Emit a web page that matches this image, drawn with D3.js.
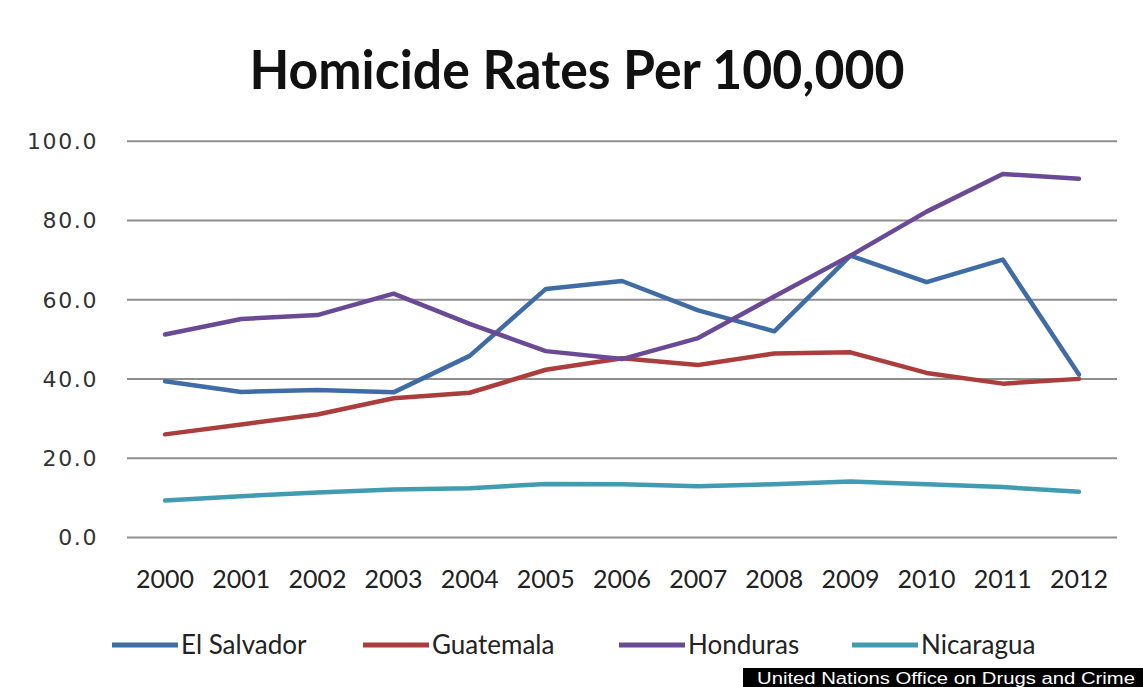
<!DOCTYPE html>
<html>
<head>
<meta charset="utf-8">
<script src="https://cdn.jsdelivr.net/npm/d3@7"></script>
<style>
  body { margin: 0; background: #fff; }
  #chart { width: 1143px; height: 687px; }
</style>
</head>
<body>
<div id="chart"></div>
<script>
// Data
const years = ["2000", "2001", "2002", "2003", "2004", "2005", "2006", "2007", "2008", "2009", "2010", "2011", "2012"];
const elSalvador = [39.3, 36.6, 37.1, 36.5, 45.7, 62.6, 64.6, 57.2, 51.9, 71.0, 64.3, 70.0, 41.0];
const guatemala = [25.9, 28.4, 30.9, 35.0, 36.4, 42.2, 45.1, 43.4, 46.3, 46.6, 41.4, 38.7, 39.9];
const honduras = [51.1, 55.0, 56.0, 61.4, 53.8, 46.9, 44.9, 50.2, 60.7, 71.0, 82.1, 91.6, 90.4];
const nicaragua = [9.2, 10.3, 11.2, 12.0, 12.3, 13.4, 13.3, 12.8, 13.3, 14.0, 13.3, 12.6, 11.4];
const yTicks = [0, 20, 40, 60, 80, 100];

const series = [
  { name: "El Salvador", values: elSalvador, color: "#3f6ca5" },
  { name: "Guatemala", values: guatemala, color: "#ab3e3c" },
  { name: "Honduras", values: honduras, color: "#6a4a95" },
  { name: "Nicaragua", values: nicaragua, color: "#419cb1" }
];

const width = 1143, height = 687;
const svg = d3.select("#chart").append("svg")
  .attr("width", width)
  .attr("height", height);

const x = d3.scaleBand().domain(years).range([127, 1117]);
const y = d3.scaleLinear().domain([0, 100]).range([537, 140.7]);

// Title
svg.append("text")
  .attr("x", 577)
  .attr("y", 89)
  .attr("text-anchor", "middle")
  .attr("font-family", "Lato, 'Open Sans', sans-serif")
  .attr("font-weight", "bold")
  .attr("font-size", 53)
  .attr("textLength", 655)
  .attr("lengthAdjust", "spacingAndGlyphs")
  .attr("fill", "#111")
  .text("Homicide Rates Per 100,000");

// Gridlines + y labels
const yAxis = d3.axisLeft(y)
  .tickValues(yTicks)
  .tickSize(-990)
  .tickPadding(29)
  .tickFormat(d3.format(".1f"));

const gy = svg.append("g")
  .attr("transform", "translate(127,0)")
  .call(yAxis);
gy.select(".domain").remove();
gy.selectAll(".tick line")
  .attr("stroke", "#8e8e8e")
  .attr("stroke-width", 2);
gy.selectAll(".tick text")
  .attr("font-family", "'DejaVu Sans', Verdana, sans-serif")
  .attr("font-size", 22)
  .attr("letter-spacing", 1.6)
  .attr("fill", "#333")
  .attr("dy", "0.36em");

// X labels
const xAxis = d3.axisBottom(x).tickSize(0).tickPadding(0);
const gx = svg.append("g")
  .attr("transform", "translate(0,569)")
  .call(xAxis);
gx.select(".domain").remove();
gx.selectAll(".tick text")
  .attr("font-family", "Lato, 'Open Sans', sans-serif")
  .attr("font-size", 25)
  .attr("fill", "#222")
  .attr("dy", "0.76em");

// Lines
const line = d3.line()
  .x((d, i) => x(years[i]) + x.bandwidth() / 2)
  .y(d => y(d));

svg.selectAll(".series")
  .data(series)
  .enter()
  .append("path")
  .attr("class", "series")
  .attr("d", d => line(d.values))
  .attr("fill", "none")
  .attr("stroke", d => d.color)
  .attr("stroke-width", 4.5)
  .attr("stroke-linejoin", "round")
  .attr("stroke-linecap", "round");

// Legend
const legendX = [112, 363, 619, 852];
const legend = svg.selectAll(".legend")
  .data(series)
  .enter()
  .append("g")
  .attr("class", "legend")
  .attr("transform", (d, i) => `translate(${legendX[i]},645)`);

legend.append("line")
  .attr("x1", 0)
  .attr("x2", 66)
  .attr("stroke", d => d.color)
  .attr("stroke-width", 5);

legend.append("text")
  .attr("x", 69)
  .attr("y", 9)
  .attr("font-family", "Lato, 'Open Sans', sans-serif")
  .attr("font-size", 26)
  .attr("fill", "#222")
  .text(d => d.name);

// Source box
svg.append("rect")
  .attr("x", 743)
  .attr("y", 668)
  .attr("width", 400)
  .attr("height", 19)
  .attr("fill", "#000");

svg.append("text")
  .attr("x", 757)
  .attr("y", 684)
  .attr("font-family", "'Liberation Sans', Arial, sans-serif")
  .attr("font-size", 16)
  .attr("textLength", 378)
  .attr("lengthAdjust", "spacingAndGlyphs")
  .attr("fill", "#fff")
  .text("United Nations Office on Drugs and Crime");
</script>
</body>
</html>
